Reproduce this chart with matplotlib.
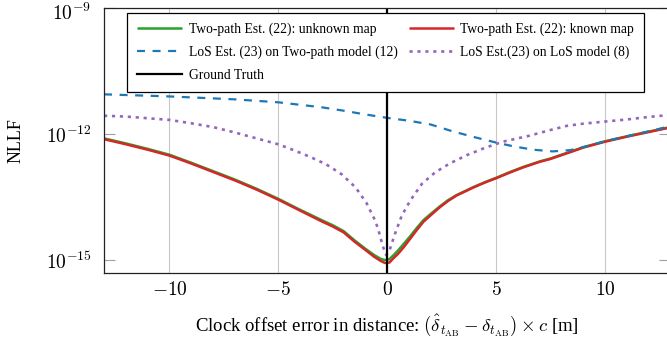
import matplotlib
matplotlib.use("Agg")
import matplotlib.pyplot as plt
import matplotlib.transforms as mtransforms

# ---------------- data ----------------
x_tp = [-13, -12, -11, -10, -9, -8, -7, -6, -5, -4, -3, -2.5, -2, -1.5, -1, -0.6, -0.3, -0.1,
        0.1, 0.3, 0.5, 0.75, 1.06, 1.35, 1.66, 2, 2.42, 2.8, 3.19, 3.6, 3.96, 4.5, 5, 5.6,
        6.25, 7, 7.5, 8, 8.4, 9, 10, 11, 12, 13]
nllf_unknown = [7.94e-13, 6.03e-13, 4.47e-13, 3.24e-13, 2.09e-13, 1.32e-13, 8.32e-14, 5.01e-14,
                2.88e-14, 1.58e-14, 8.91e-15, 6.76e-15, 4.90e-15, 2.95e-15, 1.86e-15, 1.32e-15,
                1.07e-15, 1.00e-15, 1.05e-15, 1.32e-15, 1.70e-15, 2.40e-15, 3.72e-15, 5.75e-15,
                8.91e-15, 1.26e-14, 1.91e-14, 2.69e-14, 3.55e-14, 4.47e-14, 5.50e-14, 7.24e-14,
                9.12e-14, 1.23e-13, 1.66e-13, 2.24e-13, 2.63e-13, 3.24e-13, 3.80e-13, 4.90e-13,
                6.76e-13, 8.91e-13, 1.15e-12, 1.48e-12]
nllf_known = [7.59e-13, 5.75e-13, 4.27e-13, 3.09e-13, 2.00e-13, 1.26e-13, 7.94e-14, 4.79e-14,
              2.75e-14, 1.51e-14, 8.32e-15, 6.31e-15, 4.57e-15, 2.75e-15, 1.74e-15, 1.20e-15,
              9.55e-16, 8.51e-16, 8.71e-16, 1.12e-15, 1.41e-15, 2.00e-15, 3.24e-15, 5.13e-15,
              8.13e-15, 1.17e-14, 1.82e-14, 2.57e-14, 3.47e-14, 4.37e-14, 5.37e-14, 7.08e-14,
              8.91e-14, 1.20e-13, 1.62e-13, 2.19e-13, 2.57e-13, 3.16e-13, 3.72e-13, 4.79e-13,
              6.61e-13, 8.71e-13, 1.12e-12, 1.45e-12]

x_los_tp = [-13, -10, -7, -5, -4, -3, -2, -1, 0, 1, 2, 3, 4, 5, 5.8, 6.7, 7.6, 8.4, 9, 10, 11, 12, 13]
nllf_los_tp = [8.91e-12, 7.94e-12, 6.76e-12, 5.75e-12, 5.01e-12, 4.37e-12, 3.63e-12, 2.95e-12,
               2.45e-12, 2.09e-12, 1.70e-12, 1.17e-12, 8.51e-13, 6.31e-13, 5.13e-13, 4.27e-13,
               3.89e-13, 4.17e-13, 4.90e-13, 6.76e-13, 8.91e-13, 1.17e-12, 1.55e-12]

x_los_los = [-13, -12, -11, -10, -9, -8, -7, -6, -5, -4.2, -3.5, -2.8, -2.1, -1.45, -0.95, -0.57,
             -0.42, -0.2, -0.05, 0.1, 0.36, 0.67, 1.06, 1.6, 2.2, 2.9, 3.7, 4.47, 5.3, 6.5, 7.5,
             8.25, 9, 10, 11, 12, 13]
nllf_los_los = [2.75e-12, 2.63e-12, 2.40e-12, 2.19e-12, 1.82e-12, 1.48e-12, 1.10e-12, 7.94e-13,
                5.75e-13, 3.98e-13, 2.82e-13, 1.91e-13, 1.12e-13, 5.37e-14, 2.29e-14, 9.12e-15,
                5.62e-15, 2.14e-15, 1.32e-15, 1.66e-15, 4.27e-15, 1.15e-14, 2.63e-14, 6.61e-14,
                1.23e-13, 2.04e-13, 3.24e-13, 4.68e-13, 6.61e-13, 9.12e-13, 1.26e-12, 1.58e-12,
                1.78e-12, 2.00e-12, 2.24e-12, 2.57e-12, 2.88e-12]

ground_truth_x = [0]

labels = ["Two-path Est. (22): unknown map", "Two-path Est. (22): known map",
          "LoS Est. (23) on Two-path model (12)", "LoS Est.(23) on LoS model (8)",
          "Ground Truth"]
xticks = [-10, -5, 0, 5, 10]
yticks = [1e-15, 1e-12, 1e-9]
ytick_labels = [r"$10^{-15}$", r"$10^{-12}$", r"$10^{-9}$"]

# ---------------- style ----------------
plt.rcParams["font.family"] = ["Liberation Serif", "DejaVu Serif"]
plt.rcParams["mathtext.fontset"] = "cm"

fig = plt.figure(figsize=(6.67, 3.47), dpi=100)
ax = fig.add_axes([0.156, 0.2141, 0.849, 0.7620])

l_unk, = ax.plot(x_tp, nllf_unknown, color="#2ca02c", lw=1.8, solid_capstyle="butt")
l_kn, = ax.plot(x_tp, nllf_known, color="#d62728", lw=1.8, solid_capstyle="butt")
l_ltp, = ax.plot(x_los_tp, nllf_los_tp, color="#1f77b4", lw=1.6,
                 linestyle=(0, (3.6, 3.4)), dash_capstyle="butt")
l_ll, = ax.plot(x_los_los, nllf_los_los, color="#9467bd", lw=1.9,
                linestyle=(0, (1.2, 1.8)), dash_capstyle="butt")
l_gt = ax.axvline(ground_truth_x[0], color="black", lw=1.6)

ax.set_yscale("log")
ax.set_xlim(-13, 13)
ax.set_ylim(5e-16, 1e-9)

ax.set_xticks(xticks)
ax.set_xticklabels([f"${t}$" for t in xticks])
ax.set_yticks(yticks)
ax.set_yticklabels(ytick_labels)
ax.yaxis.set_minor_locator(matplotlib.ticker.NullLocator())

ax.tick_params(axis="x", length=0, labelsize=14, pad=6)
ax.tick_params(axis="y", direction="in", length=8, width=0.8, color="#a0a0a0",
               labelsize=14, pad=9, right=True)
ax.grid(True, axis="x", color="#c8c8c8", lw=0.8)
ax.set_axisbelow(True)
for s in ax.spines.values():
    s.set_color("#222222")
    s.set_linewidth(0.9)

# nudge the top tick label down a little so it stays inside the figure
top_lab = ax.get_yticklabels()[-1]
top_lab.set_transform(top_lab.get_transform() +
                      mtransforms.ScaledTranslation(0, -2.5 / 72, fig.dpi_scale_trans))

ax.set_xlabel(r"Clock offset error in distance: $(\hat{\delta}_{t_{\mathrm{AB}}} - \delta_{t_{\mathrm{AB}}}) \times c$ [m]",
              fontsize=13.5)
ax.xaxis.set_label_coords(0.5, -0.15)
ax.set_ylabel("NLLF", fontsize=13)
ax.yaxis.set_label_coords(-0.14, 0.5)

handles = [l_unk, l_ltp, l_gt, l_kn, l_ll]
hl = [labels[0], labels[2], labels[4], labels[1], labels[3]]
leg = ax.legend(handles, hl, ncol=2, loc="upper left", bbox_to_anchor=(0.0404, 0.984),
                borderaxespad=0, fontsize=9.8, frameon=True, fancybox=False,
                edgecolor="black", framealpha=1, handlelength=3.3, handletextpad=0.5,
                columnspacing=0.8, labelspacing=0.7, borderpad=0.75)
leg.get_frame().set_linewidth(0.9)

fig.savefig("out.png", dpi=100)
